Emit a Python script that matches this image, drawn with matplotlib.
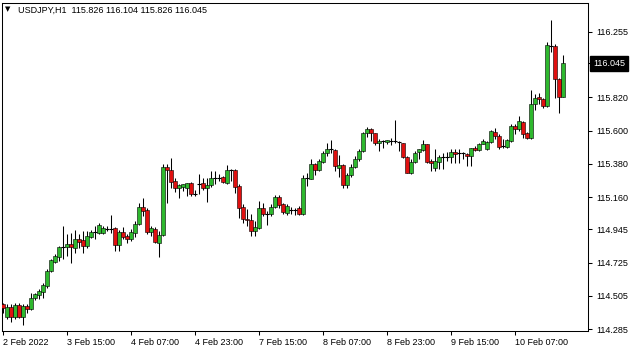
import matplotlib
matplotlib.use('Agg')
import matplotlib.pyplot as plt
import numpy as np

# USDJPY H1 candles, 2 Feb 23:00 .. 10 Feb 19:00
opens = [114.451, 114.365, 114.431, 114.365, 114.444, 114.365, 114.438, 114.418, 114.491, 114.511,
         114.530, 114.570, 114.670, 114.729, 114.763, 114.829, 114.829, 114.849, 114.822, 114.882,
         114.875, 114.836, 114.895, 114.928, 114.922, 114.922, 114.948, 114.948, 114.955, 114.842,
         114.928, 114.902, 114.882, 114.922, 114.981, 115.094, 115.074, 114.928, 114.948, 114.855,
         114.908, 115.360, 115.340, 115.267, 115.220, 115.227, 115.220, 115.253, 115.180, 115.247,
         115.253, 115.220, 115.240, 115.287, 115.287, 115.293, 115.253, 115.340, 115.340, 115.234,
         115.094, 115.015, 115.008, 114.935, 114.955, 115.088, 115.048, 115.048, 115.094, 115.161,
         115.114, 115.054, 115.074, 115.074, 115.088, 115.048, 115.287, 115.280, 115.379, 115.340,
         115.393, 115.452, 115.479, 115.472, 115.353, 115.373, 115.240, 115.306, 115.360, 115.413,
         115.466, 115.585, 115.612, 115.585, 115.519, 115.532, 115.525, 115.532, 115.532, 115.525,
         115.519, 115.426, 115.320, 115.393, 115.459, 115.472, 115.512, 115.399, 115.353, 115.393,
         115.426, 115.426, 115.426, 115.459, 115.452, 115.452, 115.446, 115.432, 115.486, 115.472,
         115.512, 115.479, 115.525, 115.592, 115.565, 115.499, 115.492, 115.532, 115.631, 115.612,
         115.658, 115.585, 115.552, 115.777, 115.824, 115.811, 115.764, 116.162, 116.162, 115.943,
         115.826]
highs = [114.457, 114.451, 114.451, 114.457, 114.457, 114.451, 114.451, 114.524, 114.524, 114.550,
         114.590, 114.683, 114.749, 114.782, 114.836, 114.968, 114.915, 114.922, 114.942, 114.915,
         114.935, 114.935, 114.942, 114.968, 114.988, 114.968, 114.968, 115.041, 114.962, 114.942,
         114.962, 114.915, 114.948, 115.001, 115.121, 115.154, 115.088, 114.968, 114.962, 114.935,
         115.379, 115.379, 115.419, 115.287, 115.247, 115.247, 115.253, 115.260, 115.207, 115.313,
         115.287, 115.287, 115.333, 115.333, 115.313, 115.300, 115.373, 115.346, 115.346, 115.247,
         115.114, 115.081, 115.048, 115.001, 115.134, 115.121, 115.068, 115.114, 115.174, 115.174,
         115.121, 115.114, 115.094, 115.088, 115.101, 115.306, 115.320, 115.413, 115.386, 115.413,
         115.466, 115.519, 115.539, 115.479, 115.439, 115.379, 115.320, 115.379, 115.432, 115.479,
         115.592, 115.625, 115.618, 115.585, 115.545, 115.539, 115.539, 115.552, 115.671, 115.532,
         115.519, 115.432, 115.413, 115.466, 115.479, 115.539, 115.512, 115.413, 115.479, 115.439,
         115.452, 115.459, 115.479, 115.479, 115.479, 115.459, 115.452, 115.486, 115.499, 115.519,
         115.545, 115.532, 115.605, 115.618, 115.578, 115.545, 115.545, 115.645, 115.645, 115.698,
         115.665, 115.592, 115.870, 115.844, 115.850, 115.817, 116.189, 116.335, 116.175, 115.950,
         116.104]
lows = [114.391, 114.351, 114.331, 114.351, 114.358, 114.312, 114.391, 114.411, 114.477, 114.484,
        114.491, 114.557, 114.663, 114.723, 114.736, 114.749, 114.769, 114.723, 114.789, 114.822,
        114.789, 114.822, 114.889, 114.882, 114.915, 114.915, 114.935, 114.922, 114.802, 114.802,
        114.882, 114.855, 114.869, 114.895, 114.975, 115.035, 114.915, 114.902, 114.855, 114.763,
        114.902, 115.121, 115.220, 115.194, 115.154, 115.200, 115.167, 115.167, 115.167, 115.180,
        115.207, 115.127, 115.227, 115.247, 115.267, 115.253, 115.247, 115.267, 115.187, 115.021,
        114.988, 114.968, 114.902, 114.902, 114.948, 115.035, 114.975, 115.035, 115.088, 115.088,
        115.048, 115.041, 115.048, 115.041, 115.041, 115.041, 115.234, 115.280, 115.306, 115.333,
        115.386, 115.432, 115.452, 115.333, 115.293, 115.220, 115.220, 115.293, 115.353, 115.399,
        115.459, 115.559, 115.532, 115.506, 115.466, 115.486, 115.512, 115.506, 115.519, 115.466,
        115.419, 115.320, 115.313, 115.386, 115.413, 115.466, 115.386, 115.333, 115.333, 115.346,
        115.346, 115.399, 115.386, 115.386, 115.386, 115.413, 115.366, 115.366, 115.466, 115.466,
        115.512, 115.472, 115.519, 115.545, 115.479, 115.486, 115.486, 115.525, 115.578, 115.598,
        115.552, 115.545, 115.545, 115.738, 115.777, 115.751, 115.757, 116.122, 115.817, 115.718,
        115.826]
closes = [114.424, 114.431, 114.365, 114.444, 114.365, 114.438, 114.418, 114.491, 114.517, 114.537,
          114.577, 114.670, 114.743, 114.769, 114.829, 114.829, 114.849, 114.829, 114.882, 114.862,
          114.836, 114.902, 114.928, 114.928, 114.975, 114.955, 114.948, 114.948, 114.842, 114.928,
          114.895, 114.882, 114.928, 114.981, 115.094, 115.068, 114.928, 114.955, 114.862, 114.908,
          115.360, 115.340, 115.260, 115.220, 115.240, 115.247, 115.253, 115.180, 115.180, 115.247,
          115.220, 115.240, 115.287, 115.287, 115.287, 115.260, 115.340, 115.340, 115.227, 115.088,
          115.015, 115.008, 114.935, 114.962, 115.088, 115.048, 115.048, 115.094, 115.161, 115.107,
          115.061, 115.101, 115.074, 115.074, 115.048, 115.287, 115.287, 115.379, 115.340, 115.399,
          115.452, 115.479, 115.479, 115.366, 115.373, 115.240, 115.306, 115.360, 115.413, 115.466,
          115.585, 115.612, 115.585, 115.519, 115.532, 115.532, 115.539, 115.532, 115.532, 115.525,
          115.426, 115.320, 115.393, 115.452, 115.479, 115.512, 115.393, 115.386, 115.399, 115.426,
          115.426, 115.426, 115.459, 115.446, 115.452, 115.452, 115.432, 115.486, 115.472, 115.512,
          115.532, 115.525, 115.598, 115.565, 115.492, 115.499, 115.539, 115.631, 115.612, 115.665,
          115.578, 115.552, 115.777, 115.817, 115.811, 115.764, 116.169, 116.162, 115.943, 115.824,
          116.045]

time_ticks = [0, 16, 32, 48, 64, 80, 96, 112, 128]
time_labels = ['2 Feb 2022', '3 Feb 15:00', '4 Feb 07:00', '4 Feb 23:00', '7 Feb 15:00',
               '8 Feb 07:00', '8 Feb 23:00', '9 Feb 15:00', '10 Feb 07:00']
price_ticks = [116.255, 116.045, 115.820, 115.600, 115.380, 115.160, 114.945, 114.725, 114.505, 114.285]
last_price = 116.045
header = 'USDJPY,H1  115.826 116.104 115.826 116.045'

BULL = '#2eb82e'
BEAR = '#e01010'

plt.rcParams['font.family'] = ['Liberation Sans', 'DejaVu Sans']

fig = plt.figure(figsize=(6.35, 3.52), dpi=100)
ax = fig.add_axes([2/635, 21/352, 586/635, 328.5/352])

o = np.array(opens); h = np.array(highs); l = np.array(lows); c = np.array(closes)
x = np.arange(len(o))

# wicks
ax.vlines(x, l, h, color='black', linewidth=0.75, zorder=2)

# bodies
up = c > o
down = c < o
flat = c == o
ax.bar(x[up], (c - o)[up], bottom=o[up], width=0.8, color=BULL,
       edgecolor='black', linewidth=0.4, zorder=3)
ax.bar(x[down], (o - c)[down], bottom=c[down], width=0.8, color=BEAR,
       edgecolor='black', linewidth=0.4, zorder=3)
ax.hlines(o[flat], x[flat] - 0.4, x[flat] + 0.4, color='black', linewidth=0.8, zorder=3)

ax.set_xlim(-0.25, 146.25)
ax.set_ylim(114.272, 116.449)

for sp in ax.spines.values():
    sp.set_linewidth(0.75)
    sp.set_color('black')

ax.yaxis.tick_right()
ax.set_yticks(price_ticks)
ax.set_yticklabels(['%.3f' % v if v != last_price else '' for v in price_ticks])
ax.tick_params(axis='y', length=3, width=0.75, pad=3, labelsize=6.5, direction='out')

ax.set_xticks(time_ticks)
ax.set_xticklabels(time_labels)
for lab in ax.get_xticklabels():
    lab.set_ha('left')
ax.tick_params(axis='x', length=3, width=0.75, pad=2, labelsize=6.5, direction='out')

# current price box on the price scale
ax.text(1.0 + 5/586, last_price, '%.3f' % last_price, transform=ax.get_yaxis_transform(),
        ha='left', va='center', color='white', fontsize=6.5,
        bbox=dict(boxstyle='square,pad=0.35', fc='black', ec='black'))

# header
fig.text(5/635, 1 - 9/352, '\u25bc', fontsize=5, family='DejaVu Sans', va='center', ha='left')
fig.text(18/635, 1 - 10/352, header, fontsize=6.5, va='center', ha='left')

fig.savefig('out.png', dpi=100)
